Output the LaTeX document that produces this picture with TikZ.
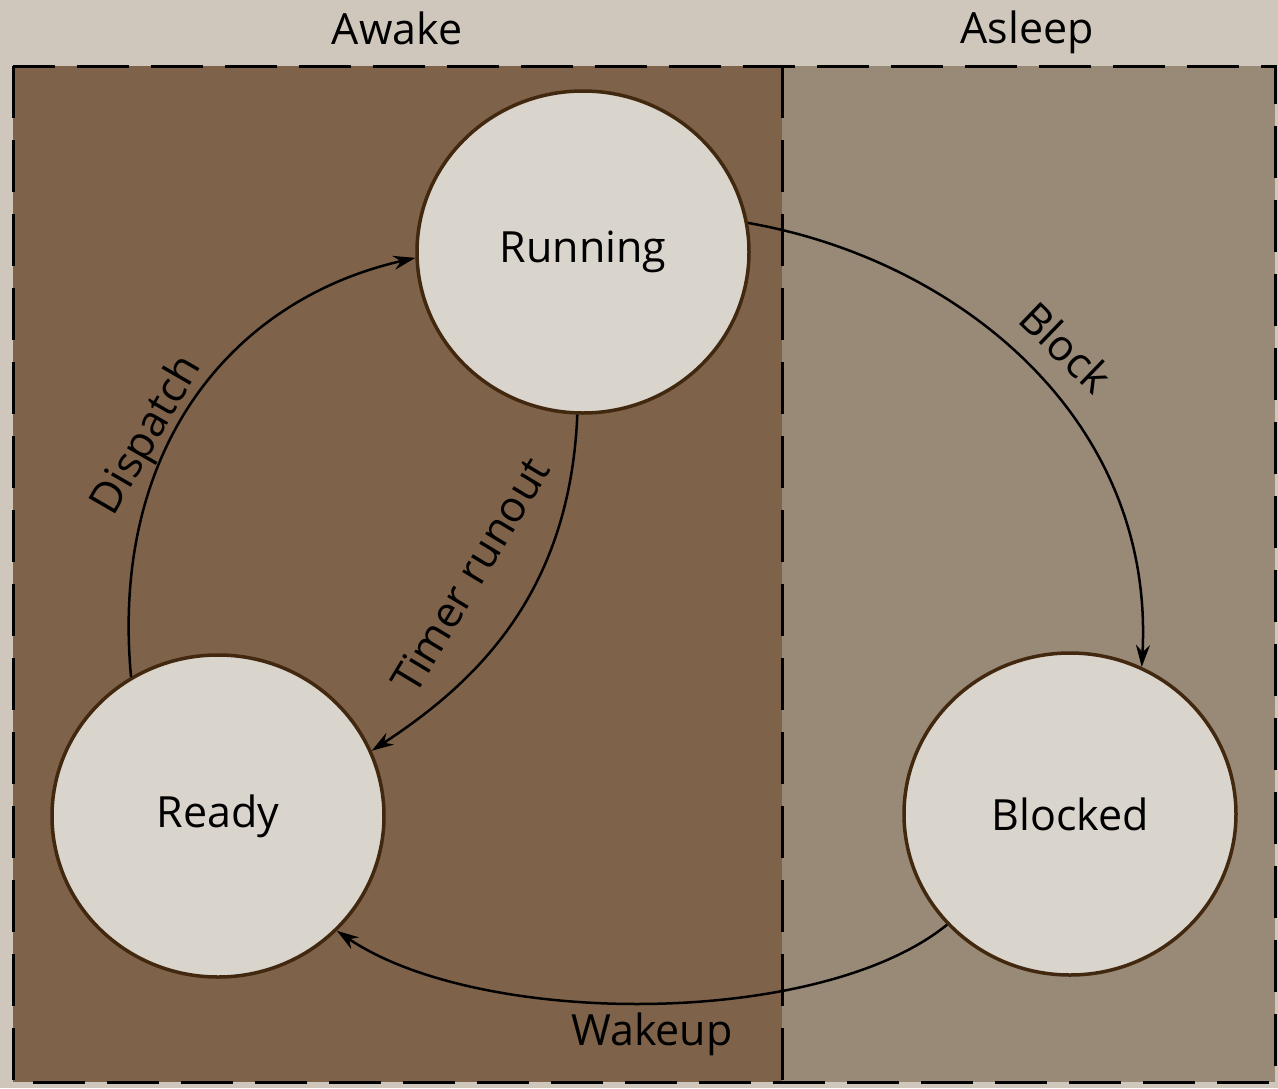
\documentclass[tikz,border=0pt]{standalone}
\usepackage{fontspec}
\setmainfont{Open Sans}
\usetikzlibrary{shapes.geometric,arrows.meta}
\definecolor{bgc}{HTML}{CFC7BB}
\definecolor{awakec}{HTML}{7E6249}
\definecolor{asleepc}{HTML}{998A78}
\definecolor{circf}{HTML}{D9D4CC}
\definecolor{circb}{HTML}{42280F}
\begin{document}
\begin{tikzpicture}[x=1pt,y=-1pt,
  state/.style={ellipse, draw=circb, line width=3.5pt, fill=circf, minimum width=332pt, minimum height=322pt, inner sep=0pt, font=\fontsize{43}{50}\selectfont},
  lbl/.style={font=\fontsize{43}{50}\selectfont, inner sep=0pt},
  trans/.style={line width=2.5pt, -{Stealth[length=22pt,width=14pt]}},
  framel/.style={line width=3pt, dash pattern=on 52pt off 22pt}]
\fill[bgc] (0,0) rectangle (1278,1088);
\useasboundingbox (0,0) rectangle (1278,1088);
\fill[awakec] (13,66) rectangle (782,1082);
\fill[asleepc] (782,66) rectangle (1275,1082);
\draw[framel] (13,66) rectangle (1275,1082);
\draw[framel] (782,66) -- (782,1082);
\node[lbl] (awake) at (397,28) {Awake};
\node[lbl] (asleep) at (1027,32) {Asleep};
\node[state] (running) at (583,252) {Running};
\node[state] (ready) at (218,816) {Ready};
\node[state] (blocked) at (1070,814) {Blocked};
\draw[trans] (ready.122) .. controls (110,450) and (230,300) .. (running.182);
\draw[trans] (running.268) .. controls (570,590) and (480,680) .. (ready.23);
\draw[trans] (running.10) .. controls (960,260) and (1155,420) .. (blocked.64);
\draw[trans] (blocked.222) .. controls (820,1028) and (480,1028) .. (ready.316);
\node[lbl, rotate=60] (ldispatch) at (148,436) {Dispatch};
\node[lbl, rotate=59] (ltimer) at (470,575) {Timer runout};
\node[lbl, rotate=-44] (lblock) at (1066,347) {Block};
\node[lbl] (lwakeup) at (652,1034) {Wakeup};
\end{tikzpicture}
\end{document}
